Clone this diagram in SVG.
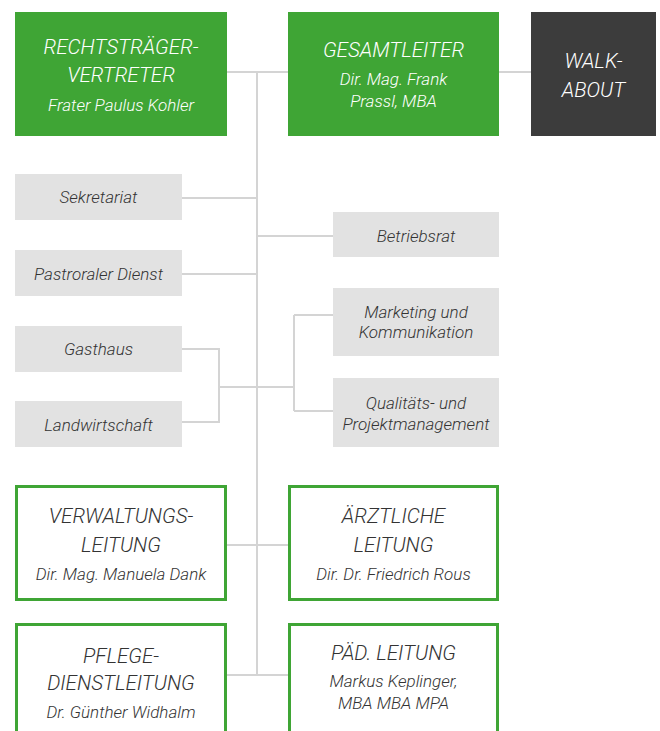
<svg xmlns="http://www.w3.org/2000/svg" width="660" height="731" viewBox="0 0 660 731">
<style>
.g{fill:#3fa535}
.d{fill:#3c3c3c}
.gr{fill:#e2e2e2}
.o{fill:#fff;stroke:#3fa535;stroke-width:3}
text{font-family:Roboto,"Open Sans","DejaVu Sans",sans-serif;font-style:italic;font-weight:300;text-anchor:middle}
.w{fill:#fff}
.k{fill:#333}
.t{font-size:20.6px}
.s{font-size:17px}
.c{stroke:#d4d4d4;stroke-width:2;fill:none}
</style>
<rect width="660" height="731" fill="#fff"/>
<g id="connectors">
<path class="c" d="M227 72H288M499 72H531M257 72V675M182 198H257M182 274H257M257 236H333M182 349H219V422H182M219 387H294M294 315V411M294 315H333M294 411H333M227 545H288M227 675H288"/>
</g>
<g id="rechtstraeger">
<rect class="g" x="15" y="12" width="212" height="124"/>
<text class="w t" x="121" y="54">RECHTSTRÄGER-</text>
<text class="w t" x="121" y="82">VERTRETER</text>
<text class="w s" x="121" y="111">Frater Paulus Kohler</text>
</g>
<g id="gesamtleiter">
<rect class="g" x="288" y="12" width="211" height="124"/>
<text class="w t" x="393.5" y="57">GESAMTLEITER</text>
<text class="w s" x="393.5" y="85">Dir. Mag. Frank</text>
<text class="w s" x="393.5" y="107">Prassl, MBA</text>
</g>
<g id="walkabout">
<rect class="d" x="531" y="12" width="125" height="124"/>
<text class="w t" x="593.5" y="68">WALK-</text>
<text class="w t" x="593.5" y="97">ABOUT</text>
</g>
<g id="sekretariat">
<rect class="gr" x="15" y="174" width="167" height="46"/>
<text class="k s" x="98.5" y="203">Sekretariat</text>
</g>
<g id="pastoral">
<rect class="gr" x="15" y="250" width="167" height="46"/>
<text class="k s" x="98.5" y="280">Pastroraler Dienst</text>
</g>
<g id="gasthaus">
<rect class="gr" x="15" y="326" width="167" height="46"/>
<text class="k s" x="98.5" y="355">Gasthaus</text>
</g>
<g id="landwirtschaft">
<rect class="gr" x="15" y="401" width="167" height="46"/>
<text class="k s" x="98.5" y="431">Landwirtschaft</text>
</g>
<g id="betriebsrat">
<rect class="gr" x="333" y="212" width="166" height="45"/>
<text class="k s" x="416" y="242">Betriebsrat</text>
</g>
<g id="marketing">
<rect class="gr" x="333" y="288" width="166" height="68"/>
<text class="k s" x="416" y="318">Marketing und</text>
<text class="k s" x="416" y="338">Kommunikation</text>
</g>
<g id="qualitaet">
<rect class="gr" x="333" y="378" width="166" height="69"/>
<text class="k s" x="416" y="409">Qualitäts- und</text>
<text class="k s" x="416" y="430">Projektmanagement</text>
</g>
<g id="verwaltung">
<rect class="o" x="16.5" y="486.5" width="209" height="113"/>
<text class="k t" x="121" y="523">VERWALTUNGS-</text>
<text class="k t" x="121" y="552">LEITUNG</text>
<text class="k s" x="121" y="580">Dir. Mag. Manuela Dank</text>
</g>
<g id="aerztlich">
<rect class="o" x="289.5" y="486.5" width="208" height="113"/>
<text class="k t" x="393.5" y="523">ÄRZTLICHE</text>
<text class="k t" x="393.5" y="552">LEITUNG</text>
<text class="k s" x="393.5" y="580">Dir. Dr. Friedrich Rous</text>
</g>
<g id="pflege">
<rect class="o" x="16.5" y="624.5" width="209" height="130"/>
<text class="k t" x="121" y="663">PFLEGE-</text>
<text class="k t" x="121" y="690">DIENSTLEITUNG</text>
<text class="k s" x="121" y="718">Dr. Günther Widhalm</text>
</g>
<g id="paed">
<rect class="o" x="289.5" y="624.5" width="208" height="130"/>
<text class="k t" x="393.5" y="660">PÄD. LEITUNG</text>
<text class="k s" x="393.5" y="687">Markus Keplinger,</text>
<text class="k s" x="393.5" y="709">MBA MBA MPA</text>
</g>
</svg>
